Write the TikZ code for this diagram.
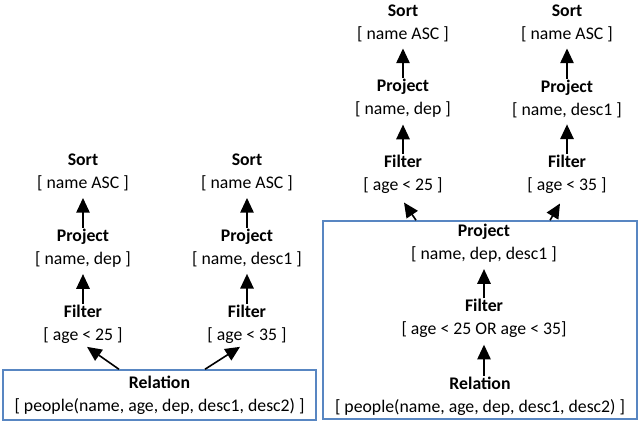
\documentclass[tikz,border=0pt]{standalone}
\usepackage{fontspec}
\setmainfont{Carlito}
\usepackage{tikz}
\usetikzlibrary{arrows.meta, positioning, fit}
\definecolor{planblue}{RGB}{88,134,194}
\tikzset{
  opnode/.style  = {align=center, inner sep=0pt,
                    font=\fontsize{13.3}{17.25}\selectfont},
  relbox/.style  = {rectangle, draw=planblue, line width=1.1pt,
                    align=center, inner sep=0pt,
                    font=\fontsize{13.3}{17.25}\selectfont},
  oparrow/.style = {-{Triangle[length=11pt, width=10pt]}, line width=1.2pt},
  uparrow/.style = {oparrow, shorten >=5pt, shorten <=0.5pt},
}

\begin{document}
\begin{tikzpicture}[x=0.75pt, y=-0.75pt]
  \useasboundingbox (0,0) rectangle (641,422);

  % left plan: two pipelines over one relation
  \node[relbox, minimum width=234.75pt, minimum height=37.5pt] (lrel) at (159.5,395)
    {\textbf{Relation}\\{[} people(name, age, dep, desc1, desc2) ]};
  \node[opnode] (lfA) at (83,324)  {\textbf{Filter}\\{[} age < 25 ]};
  \node[opnode] (lpA) at (83,248)  {\textbf{Project}\\{[} name, dep ]};
  \node[opnode] (lsA) at (83,172.5)  {\textbf{Sort}\\{[} name ASC ]};
  \node[opnode] (lfB) at (247,324) {\textbf{Filter}\\{[} age < 35 ]};
  \node[opnode] (lpB) at (247,248) {\textbf{Project}\\{[} name, desc1 ]};
  \node[opnode] (lsB) at (247,172.5) {\textbf{Sort}\\{[} name ASC ]};

  \draw[oparrow] ([xshift=-30.4pt]lrel.north) -- ([xshift=3pt, yshift=-2.5pt]lfA.south);
  \draw[oparrow] ([xshift=34.1pt]lrel.north) -- ([xshift=-5.25pt, yshift=-2.5pt]lfB.south);
  \draw[uparrow] (lfA) -- (lpA);
  \draw[uparrow] (lpA) -- (lsA);
  \draw[uparrow] (lfB) -- (lpB);
  \draw[uparrow] (lpB) -- (lsB);

  % right plan: shared scan, filter and project in one box
  \node[relbox, minimum width=235.5pt, minimum height=148.5pt] (rbox) at (480,320) {};
  \node[opnode] (rrel) at (480,396) {\textbf{Relation}\\{[} people(name, age, dep, desc1, desc2) ]};
  \node[opnode] (rfM) at (484,318.5) {\textbf{Filter}\\{[} age < 25 OR age < 35]};
  \node[opnode] (rpM) at (484,243)   {\textbf{Project}\\{[} name, dep, desc1 ]};
  \node[opnode] (rfA) at (403,174)   {\textbf{Filter}\\{[} age < 25 ]};
  \node[opnode] (rpA) at (403,98.5)  {\textbf{Project}\\{[} name, dep ]};
  \node[opnode] (rsA) at (403,23)    {\textbf{Sort}\\{[} name ASC ]};
  \node[opnode] (rfB) at (567,174)   {\textbf{Filter}\\{[} age < 35 ]};
  \node[opnode] (rpB) at (567,98.5)  {\textbf{Project}\\{[} name, desc1 ]};
  \node[opnode] (rsB) at (567,23)    {\textbf{Sort}\\{[} name ASC ]};

  \draw[uparrow] (rrel.north -| rfM) -- (rfM.south);
  \draw[uparrow] (rfM) -- (rpM);
  \draw[oparrow] ([xshift=-48pt]rbox.north) -- ([xshift=0.75pt, yshift=-6.75pt]rfA.south);
  \draw[oparrow] ([xshift=52.5pt]rbox.north) -- ([xshift=-5.25pt, yshift=-7.5pt]rfB.south);
  \draw[uparrow] (rfA) -- (rpA);
  \draw[uparrow] (rpA) -- (rsA);
  \draw[uparrow] (rfB) -- (rpB);
  \draw[uparrow] (rpB) -- (rsB);
\end{tikzpicture}
\end{document}
